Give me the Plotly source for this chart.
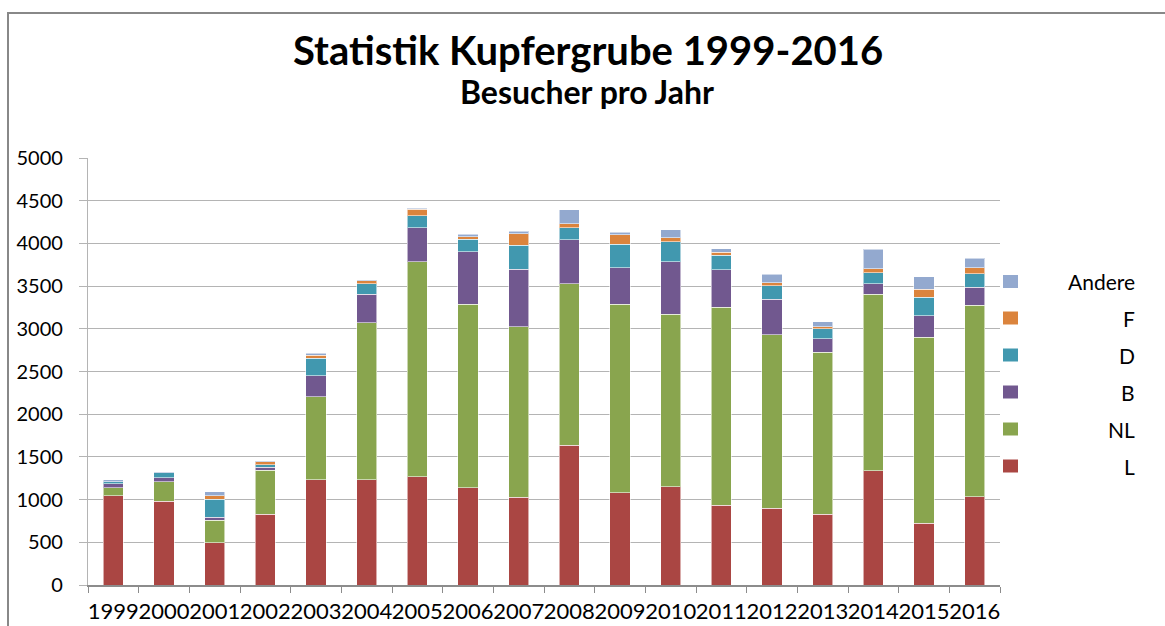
import plotly.graph_objects as go

years = [str(y) for y in range(1999, 2017)]
L_vals = [1045, 980, 495, 830, 1230, 1230, 1265, 1140, 1025, 1635, 1080, 1150, 935, 900, 830, 1335, 725, 1035]
NL_vals = [95, 230, 265, 515, 975, 1840, 2520, 2150, 2000, 1890, 2205, 2020, 2320, 2030, 1895, 2070, 2175, 2240]
B_vals = [46, 46, 35, 31, 246, 336, 398, 612, 675, 516, 429, 613, 437, 418, 159, 124, 254, 211]
D_vals = [24, 59, 207, 35, 204, 124, 140, 149, 278, 140, 274, 234, 169, 156, 114, 125, 215, 159]
F_vals = [0, 0, 43, 35, 38, 32, 75, 27, 136, 47, 113, 47, 38, 35, 27, 47, 94, 71]
Andere_vals = [20, 10, 47, 7, 20, 11, 16, 32, 31, 168, 31, 94, 39, 102, 55, 231, 147, 113]

series_names = ["L", "NL", "B", "D", "F", "Andere"]
series_vals = [L_vals, NL_vals, B_vals, D_vals, F_vals, Andere_vals]
series_colors = ["#AA4643", "#89A54E", "#71588F", "#4198AF", "#DB843D", "#93A9CF"]
y_ticks = [0, 500, 1000, 1500, 2000, 2500, 3000, 3500, 4000, 4500, 5000]

W, H = 1165, 626
ML, MR, MT, MB = 88, 165, 158, 41
PW, PH = W - ML - MR, H - MT - MB

def px2x(px):
    return (px - ML) / PW

def py2y(py):
    return (H - MB - py) / PH

fig = go.Figure()
for name, vals, col in zip(series_names, series_vals, series_colors):
    fig.add_trace(go.Bar(
        x=years, y=vals, name=name, showlegend=False,
        marker=dict(color=col, line=dict(color="rgba(255,255,255,0.55)", width=1)),
    ))

grid_col = "#b4b4b4"
fig.update_layout(
    width=W, height=H, autosize=False,
    barmode="stack", bargap=0.6,
    paper_bgcolor="white", plot_bgcolor="white",
    margin=dict(l=ML, r=MR, t=MT, b=MB, pad=0, autoexpand=False),
    font=dict(family="Lato", color="#000000"),
    xaxis=dict(
        type="category", tickmode="array", tickvals=years, ticktext=years,
        tickangle=0, tickson="boundaries", ticks="outside", ticklen=6,
        tickcolor="#8c8c8c", showline=True, linecolor="#8c8c8c", linewidth=1.5,
        showgrid=False, tickfont=dict(family="Lato", size=22, color="#000"),
        ticklabelstandoff=6, automargin=False,
    ),
    yaxis=dict(
        range=[0, 5000], tickmode="array", tickvals=y_ticks,
        ticks="outside", ticklen=8, tickcolor=grid_col,
        showgrid=True, gridcolor=grid_col, gridwidth=1.3,
        showline=True, linecolor=grid_col, linewidth=1.3,
        zeroline=False, tickfont=dict(family="Lato", size=20, color="#000"),
        ticklabelstandoff=12, automargin=False,
    ),
)

annotations = [
    dict(text="<b>Statistik Kupfergrube 1999-2016</b>", x=px2x(588), y=py2y(50),
         xref="paper", yref="paper", xanchor="center", yanchor="middle",
         showarrow=False, font=dict(family="Lato", size=40, color="#000")),
    dict(text="<b>Besucher pro Jahr</b>", x=px2x(587), y=py2y(91),
         xref="paper", yref="paper", xanchor="center", yanchor="middle",
         showarrow=False, font=dict(family="Lato", size=32, color="#000")),
]

shapes = [
    dict(type="rect", xref="paper", yref="paper",
         x0=px2x(8), x1=px2x(1200), y0=py2y(660), y1=py2y(13),
         line=dict(color="#888888", width=2), fillcolor="rgba(0,0,0,0)", layer="above"),
]

legend_centers = {"Andere": 281.5, "F": 318, "D": 355, "B": 392, "NL": 429, "L": 466}
for name, col in zip(series_names, series_colors):
    cy = legend_centers[name]
    shapes.append(dict(type="rect", xref="paper", yref="paper",
                       x0=px2x(1003), x1=px2x(1018), y0=py2y(cy + 6.5), y1=py2y(cy - 6.5),
                       line=dict(width=0), fillcolor=col))
    annotations.append(dict(text=name, x=px2x(1137), y=py2y(cy), xref="paper", yref="paper",
                            xanchor="right", yanchor="middle", showarrow=False,
                            font=dict(family="Lato", size=21, color="#000")))

fig.update_layout(annotations=annotations, shapes=shapes)
fig.write_html("out.html", config={"displayModeBar": False},
               post_script="document.body.style.margin='0';document.body.style.overflow='hidden';")
